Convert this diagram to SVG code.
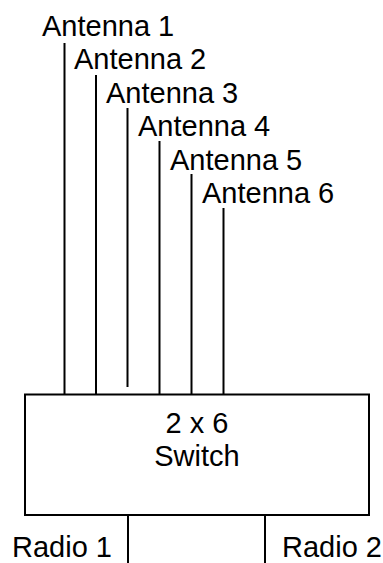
<svg xmlns="http://www.w3.org/2000/svg" width="383" height="563" viewBox="0 0 383 563">
<style>
text{font-family:"Liberation Sans",Arial,sans-serif;font-size:29px;fill:#000}
.c line{stroke:#000;stroke-width:2}
.box{fill:#fff;stroke:#000;stroke-width:2}
</style>
<rect width="383" height="563" fill="#fff"/>
<g id="antennas">
<g id="antenna1"><text x="42" y="36">Antenna 1</text></g>
<g id="antenna2"><text x="74" y="69">Antenna 2</text></g>
<g id="antenna3"><text x="106" y="103">Antenna 3</text></g>
<g id="antenna4"><text x="138" y="136">Antenna 4</text></g>
<g id="antenna5"><text x="170" y="170">Antenna 5</text></g>
<g id="antenna6"><text x="202" y="203">Antenna 6</text></g>
</g>
<g id="connectors" class="c">
<line x1="64.5" y1="43" x2="64.5" y2="394"/>
<line x1="96" y1="75" x2="96" y2="394"/>
<line x1="127.5" y1="108" x2="127.5" y2="387"/>
<line x1="159.5" y1="141" x2="159.5" y2="394"/>
<line x1="191.5" y1="174" x2="191.5" y2="394"/>
<line x1="223.5" y1="208" x2="223.5" y2="394"/>
<line x1="128" y1="515" x2="128" y2="563"/>
<line x1="265" y1="515" x2="265" y2="563"/>
</g>
<g id="switch">
<rect class="box" x="25" y="394.5" width="344" height="120.5"/>
<text x="197" y="433" text-anchor="middle">2 x 6</text>
<text x="197" y="466" text-anchor="middle">Switch</text>
</g>
<g id="radio1"><text x="12" y="557">Radio 1</text></g>
<g id="radio2"><text x="282" y="557">Radio 2</text></g>
</svg>
